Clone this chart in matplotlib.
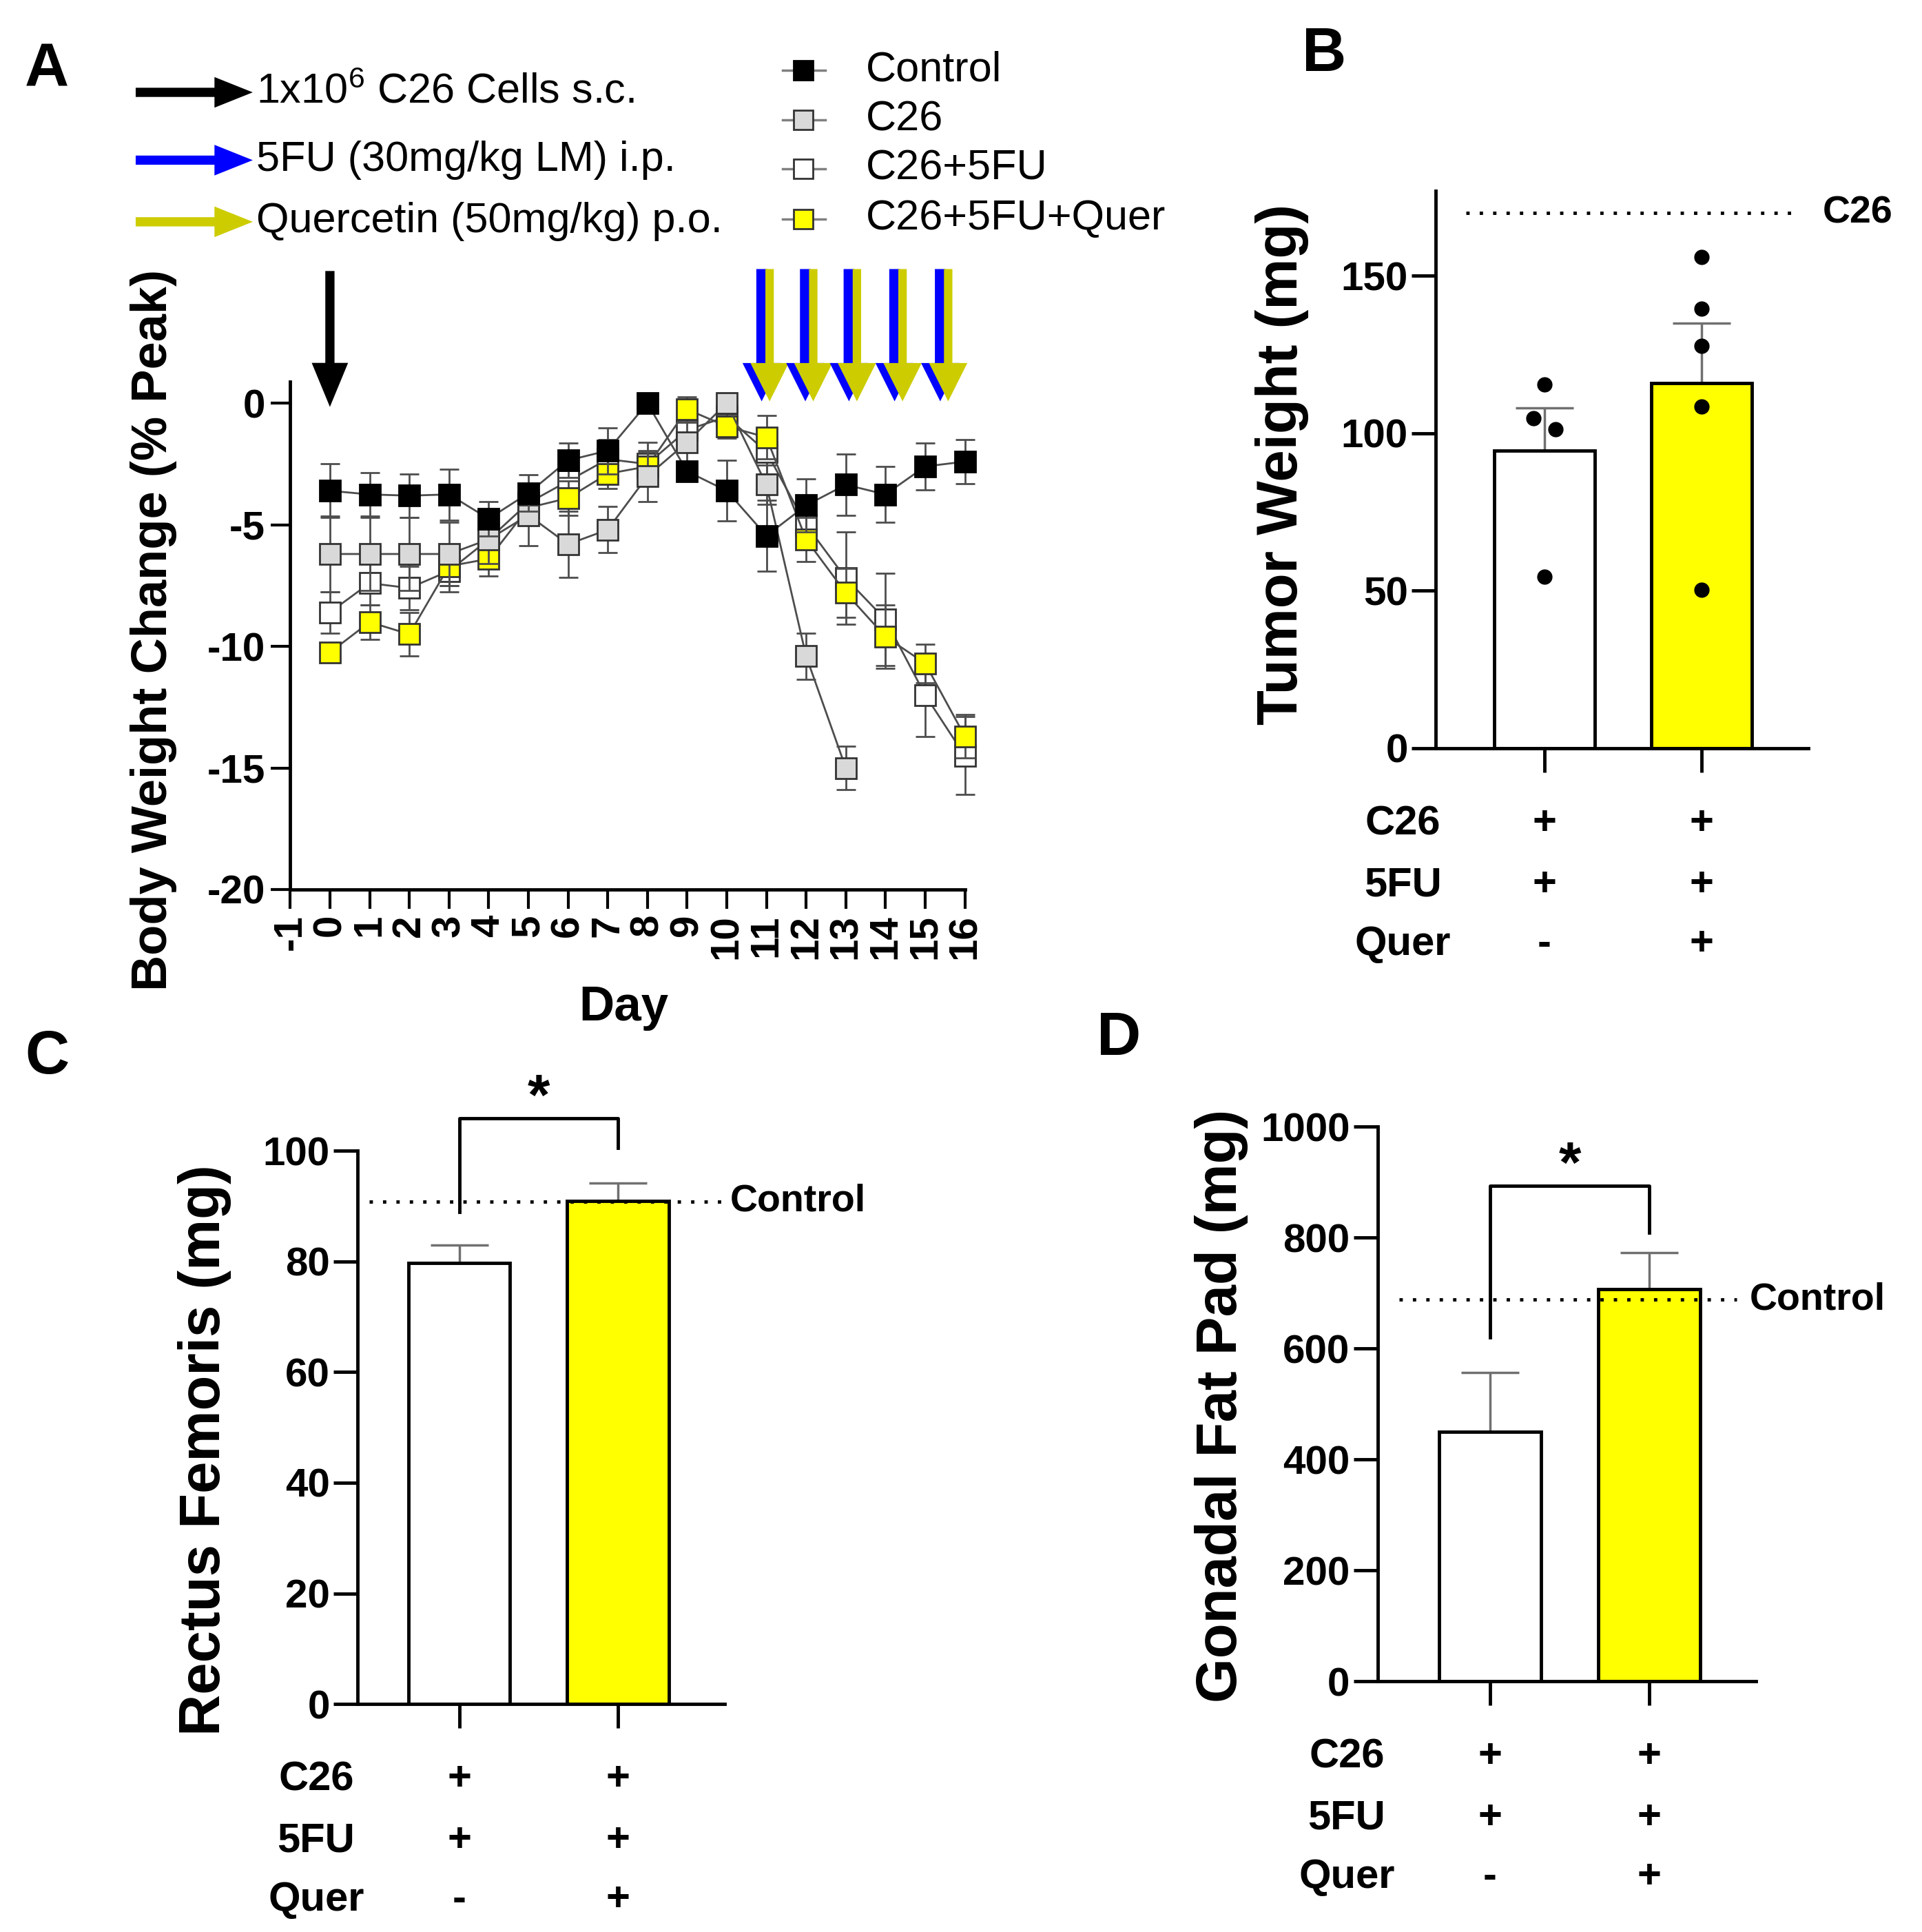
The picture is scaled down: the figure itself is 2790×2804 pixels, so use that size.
import matplotlib
matplotlib.use('Agg')
import matplotlib.pyplot as plt
from matplotlib.patches import FancyArrowPatch
from matplotlib.lines import Line2D

plt.rcParams['font.family'] = ['Liberation Sans', 'DejaVu Sans']
plt.rcParams['axes.unicode_minus'] = False
plt.rcParams['mathtext.fontset'] = 'custom'
plt.rcParams['mathtext.rm'] = 'Liberation Sans'
plt.rcParams['mathtext.default'] = 'regular'

# ---- Panel A: body weight change (% peak) ----
days = list(range(0, 17))
ctrl_mean = [-3.6, -3.75, -3.8, -3.75, -4.75, -3.7, -2.35, -1.95, 0.0, -2.8, -3.6,
             -5.45, -4.2, -3.35, -3.75, -2.6, -2.4]
ctrl_sem = [1.1, 0.9, 0.9, 1.05, 0.7, 0.75, 0.7, 0.95, 0.3, 0.4, 1.25,
            1.45, 1.1, 1.25, 1.15, 0.95, 0.9]
c26_days = list(range(0, 14))
c26_mean = [-6.2, -6.2, -6.2, -6.2, -5.6, -4.6, -5.8, -5.2, -3.0, -1.6, 0.0,
            -3.35, -10.4, -15.0]
c26_sem = [1.55, 1.5, 1.5, 1.3, 1.0, 1.25, 1.35, 0.95, 1.05, 0.8, 0.3,
           0.8, 0.95, 0.9]
fu_mean = [-8.6, -7.4, -7.6, -6.9, -5.6, -4.1, -3.2, -2.3, -2.5, -1.1, -0.55,
           -2.0, -5.0, -7.2, -8.9, -12.0, -14.5]
fu_sem = [0.85, 0.9, 0.9, 0.85, 0.7, 0.7, 0.8, 0.8, 0.9, 0.8, 0.4,
          0.9, 0.9, 1.9, 1.9, 1.7, 1.6]
quer_mean = [-10.25, -9.0, -9.5, -6.7, -6.4, -4.3, -3.9, -2.9, -2.6, -0.25, -0.95,
             -1.4, -5.6, -7.8, -9.6, -10.7, -13.7]
quer_sem = [0.4, 0.7, 0.9, 0.8, 0.7, 0.7, 0.7, 0.6, 0.6, 0.5, 0.5,
            0.9, 0.9, 1.0, 1.3, 0.8, 0.9]
series_names = ['Control', 'C26', 'C26+5FU', 'C26+5FU+Quer']
series_fill = ['black', '#D9D9D9', 'white', '#FFFF00']
inject_day = 0
dose_days = [11.0, 12.1, 13.2, 14.35, 15.5]

# ---- Panels B-D ----
row_names = ['C26', '5FU', 'Quer']
row_signs = [['+', '+'], ['+', '+'], ['-', '+']]
bar_fill = ['white', '#FFFF00']

tumor_mean = [94.5, 116.0]
tumor_sem = [13.5, 19.0]
tumor_pts_1 = [115.6, 104.7, 101.4, 54.5]
tumor_pts_2 = [155.9, 139.6, 127.7, 108.6, 50.3]
tumor_c26 = 170

rf_mean = [79.7, 90.9]
rf_sem = [3.3, 3.3]
rf_control = 90.8

fat_mean = [450, 707]
fat_sem = [106, 66]
fat_control = 688

BLUE = '#0000FF'
OLIVE = '#CCCC00'
GREY = '#4D4D4D'

fig = plt.figure(figsize=(27.9, 28.04), dpi=100)

# ================= A =================
axA = fig.add_axes([0.151, 0.5396, 0.351, 0.263])
plot_order = [(fu_mean, fu_sem, days, 2), (quer_mean, quer_sem, days, 3),
              (c26_mean, c26_sem, c26_days, 1), (ctrl_mean, ctrl_sem, days, 0)]
for k, (m, s, d, i) in enumerate(plot_order):
    axA.errorbar(d, m, yerr=s, fmt='-', marker='s', ms=22,
                 mfc=series_fill[i], mec='#333333' if i else 'black', mew=2,
                 color=GREY, lw=2, ecolor=GREY, elinewidth=2,
                 capsize=10, capthick=2, zorder=3 + k, clip_on=False)

axA.set_xlim(-1, 16)
axA.set_ylim(-20, 0.9)
axA.set_yticks([0, -5, -10, -15, -20])
axA.set_xticks(list(range(-1, 17)))
axA.set_xticklabels([str(v) for v in range(-1, 17)], rotation=90)
for sp in ['top', 'right']:
    axA.spines[sp].set_visible(False)
for sp in ['left', 'bottom']:
    axA.spines[sp].set_linewidth(3.5)
axA.tick_params(axis='both', length=20, width=3, labelsize=42, pad=6)
for t in axA.get_xticklabels() + axA.get_yticklabels():
    t.set_fontweight('bold')
axA.set_ylabel('Body Weight Change (% Peak)', fontsize=52, fontweight='bold', va='center')
axA.yaxis.set_label_coords(-0.2026, 0.51)
axA.set_xlabel('Day', fontsize=51, fontweight='bold', va='center')
axA.xaxis.set_label_coords(0.4945, -0.233)

# dosing arrows
axA.annotate('', xy=(inject_day, -0.15), xytext=(inject_day, 5.44),
             arrowprops=dict(arrowstyle='simple,head_length=1.15,head_width=0.95,tail_width=0.24',
                             mutation_scale=40, fc='black', ec='none',
                             shrinkA=0, shrinkB=0),
             annotation_clip=False)
for dd in dose_days:
    axA.annotate('', xy=(dd - 0.12, 0.08), xytext=(dd - 0.12, 5.52),
                 arrowprops=dict(arrowstyle='simple,head_length=1.0,head_width=1.0,tail_width=0.28',
                                 mutation_scale=40, fc=BLUE, ec='none',
                                 shrinkA=0, shrinkB=0),
                 annotation_clip=False)
    axA.annotate('', xy=(dd + 0.08, 0.08), xytext=(dd + 0.08, 5.52),
                 arrowprops=dict(arrowstyle='simple,head_length=1.0,head_width=1.0,tail_width=0.22',
                                 mutation_scale=40, fc=OLIVE, ec='none',
                                 shrinkA=0, shrinkB=0),
                 annotation_clip=False)

# arrow key (top left)
key_text = [r'1x10$^{6}$ C26 Cells s.c.', '5FU (30mg/kg LM) i.p.', 'Quercetin (50mg/kg) p.o.']
key_col = ['black', BLUE, OLIVE]
key_y = [0.9522, 0.9171, 0.8852]
for txt, c, y in zip(key_text, key_col, key_y):
    fig.add_artist(FancyArrowPatch((0.0706, y), (0.1315, y), transform=fig.transFigure,
                                   arrowstyle='simple,head_length=1.0,head_width=0.8,tail_width=0.24',
                                   mutation_scale=40, fc=c, ec='none',
                                   shrinkA=0, shrinkB=0))
    fig.text(0.1335, y, txt, fontsize=44, ha='left', va='center')

# series legend
leg_y = [0.9636, 0.9381, 0.9126, 0.8866]
for i, (name, y) in enumerate(zip(series_names, leg_y)):
    fig.add_artist(Line2D([0.407, 0.418, 0.4295], [y, y, y], transform=fig.transFigure,
                          color='#808080', lw=2.5, marker='s', markevery=[1], ms=20,
                          mfc=series_fill[i], mec='#333333' if i else 'black', mew=2))
    fig.text(0.4506, y, name, fontsize=44, ha='left', va='center')


# ================= bar panels =================
def bar_panel(rect, means, sems, ylim, yticks, xlim, ylabel, label_xy):
    ax = fig.add_axes(rect)
    x = [0, 1]
    ax.bar(x, means, width=0.64, color=bar_fill, edgecolor='black', linewidth=3.5, zorder=2)
    ax.errorbar(x, means, yerr=[[0, 0], sems], fmt='none', ecolor='#707070',
                elinewidth=2.5, capsize=30, capthick=2.5, zorder=1)
    ax.set_xlim(*xlim)
    ax.set_ylim(*ylim)
    ax.set_yticks(yticks)
    ax.set_xticks(x)
    ax.tick_params(axis='x', length=25, width=3.5, labelbottom=False)
    ax.tick_params(axis='y', length=25, width=3.5, labelsize=42, pad=4)
    for t in ax.get_yticklabels():
        t.set_fontweight('bold')
    for sp in ['top', 'right']:
        ax.spines[sp].set_visible(False)
    for sp in ['left', 'bottom']:
        ax.spines[sp].set_linewidth(3.5)
    ax.set_ylabel(ylabel, fontsize=60, fontweight='bold', va='center')
    ax.yaxis.set_label_coords(*label_xy)
    # treatment rows under the axis
    offsets = [79, 143, 205]
    for r, name in enumerate(row_names):
        ax.annotate(name, xy=(-0.9, 0), xycoords=('data', 'axes fraction'),
                    xytext=(0, -offsets[r]), textcoords='offset points',
                    ha='center', va='center', fontsize=43, fontweight='bold',
                    annotation_clip=False)
        for j in range(2):
            ax.annotate(row_signs[r][j], xy=(x[j], 0), xycoords=('data', 'axes fraction'),
                        xytext=(0, -offsets[r]), textcoords='offset points',
                        ha='center', va='center', fontsize=43, fontweight='bold',
                        annotation_clip=False)
    return ax


# B
axB = bar_panel([0.747, 0.6127, 0.194, 0.2885], tumor_mean, tumor_sem, (0, 177),
                [0, 50, 100, 150], (-0.69, 1.68), 'Tumor Weight (mg)', (-0.413, 0.509))
axB.plot([0.0, -0.07, 0.07, 0.0], tumor_pts_1, 'o', color='black', ms=15, zorder=4)
axB.plot([1] * len(tumor_pts_2), tumor_pts_2, 'o', color='black', ms=15, zorder=4)
axB.plot([-0.5, 1.62], [tumor_c26, tumor_c26], color='black', lw=3.5,
         linestyle=(0, (1, 3)), clip_on=False)
axB.text(1.77, tumor_c26, 'C26', fontsize=40, fontweight='bold', ha='left', va='center',
         clip_on=False)

# C
axC = bar_panel([0.186, 0.118, 0.191, 0.2864], rf_mean, rf_sem, (0, 100),
                [0, 20, 40, 60, 80, 100], (-0.64, 1.67), 'Rectus Femoris (mg)', (-0.416, 0.459))
axC.plot([-0.566, 1.68], [rf_control, rf_control], color='black', lw=3.5,
         linestyle=(0, (1, 3)), clip_on=False, zorder=3)
axC.text(1.705, rf_control, 'Control', fontsize=40, fontweight='bold', ha='left', va='center',
         clip_on=False)
axC.plot([0, 0, 1, 1], [88.9, 105.9, 105.9, 100.5], color='black', lw=3.5, clip_on=False)
axC.text(0.5, 106.5, '*', fontsize=60, fontweight='bold', ha='center', va='baseline',
         clip_on=False)

# D
axD = bar_panel([0.7168, 0.1298, 0.1968, 0.2871], fat_mean, fat_sem, (0, 1000),
                [0, 200, 400, 600, 800, 1000], (-0.705, 1.67), 'Gonadal Fat Pad (mg)',
                (-0.414, 0.496))
axD.plot([-0.57, 1.55], [fat_control, fat_control], color='black', lw=3.5,
         linestyle=(0, (1, 3)), clip_on=False, zorder=3)
axD.text(1.63, fat_control, 'Control', fontsize=40, fontweight='bold', ha='left', va='center',
         clip_on=False)
axD.plot([0, 0, 1, 1], [620, 893, 893, 809], color='black', lw=3.5, clip_on=False)
axD.text(0.5, 900, '*', fontsize=60, fontweight='bold', ha='center', va='baseline',
         clip_on=False)

# panel letters
for letter, px, py in [('A', 0.0244, 0.9636), ('B', 0.689, 0.9714),
                       ('C', 0.0244, 0.4526), ('D', 0.582, 0.4622)]:
    fig.text(px, py, letter, fontsize=64, fontweight='bold', ha='center', va='center')

fig.savefig('out.png', dpi=100)
